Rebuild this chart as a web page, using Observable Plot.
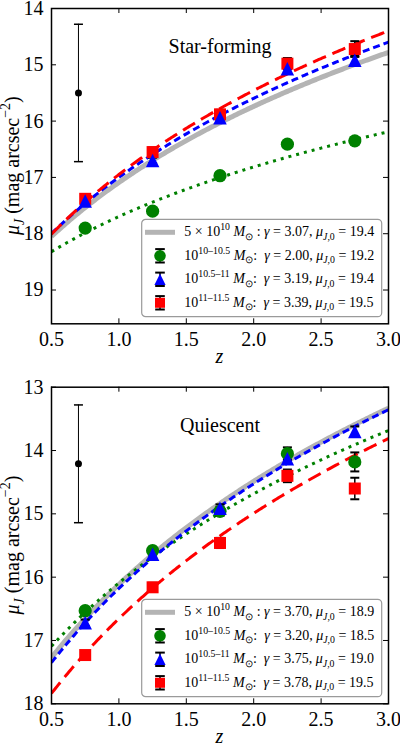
<!DOCTYPE html>
<html>
<head>
<meta charset="utf-8">
<script src="https://cdn.jsdelivr.net/npm/d3@7"></script>
<script src="https://cdn.jsdelivr.net/npm/@observablehq/plot@0.6"></script>
<style>
  body { margin: 0; background: #fff; }
  #fig { width: 400px; height: 745px; overflow: hidden; background: #fff; }
  #fig svg { display: block; }
  #fig svg text { font-family: "Liberation Serif", "Times New Roman", serif; }
</style>
</head>
<body>
<div id="fig"></div>
<script>
// Redshift bins (bin centres) and axis ticks
const zBins = [0.75, 1.25, 1.75, 2.25, 2.75];
const xTicks = [0.5, 1.0, 1.5, 2.0, 2.5, 3.0];

// Mass-bin labels: base and superscript
const massBase = ["5 × 10", "10", "10", "10"];
const massSup = ["10", "10–10.5", "10.5–11", "11–11.5"];

// Star-forming galaxies: measured surface brightness (mag arcsec^-2)
const sfYTicks = [14, 15, 16, 17, 18, 19];
const sfLowMu  = [17.90, 17.60, 16.97, 16.41, 16.35];
const sfLowErr = [0.05, 0.05, 0.05, 0.06, 0.06];
const sfMidMu  = [17.42, 16.70, 15.94, 15.07, 14.92];
const sfMidErr = [0.05, 0.05, 0.06, 0.07, 0.08];
const sfHighMu  = [17.38, 16.55, 15.88, 14.98, 14.72];
const sfHighErr = [0.06, 0.08, 0.08, 0.10, 0.14];
// fits: mu = mu0 - 2.5 * gamma * log10(1 + z); order: 5e10, low, mid, high
const sfGamma = [3.07, 2.00, 3.19, 3.39];
const sfMu0   = [19.4, 19.2, 19.4, 19.5];
// typical error bar [z, mu, err]
const sfTypical = [0.7, 15.5, 1.22];

// Quiescent galaxies
const qYTicks = [13, 14, 15, 16, 17, 18];
const qLowMu  = [16.53, 15.58, 14.96, 14.05, 14.18];
const qLowErr = [0.06, 0.06, 0.07, 0.10, 0.15];
const qMidMu  = [16.72, 15.64, 14.91, 14.13, 13.70];
const qMidErr = [0.05, 0.05, 0.06, 0.08, 0.08];
const qHighMu  = [17.23, 16.16, 15.46, 14.40, 14.60];
const qHighErr = [0.06, 0.07, 0.08, 0.10, 0.17];
const qGamma = [3.70, 3.20, 3.75, 3.78];
const qMu0   = [18.9, 18.5, 19.0, 19.5];
const qTypical = [0.7, 14.21, 0.93];

// ---- marker shapes ----
const circSym = (r) => ({draw(ctx) { ctx.moveTo(r, 0); ctx.arc(0, 0, r, 0, 2 * Math.PI); }});
const triSym = (h) => ({draw(ctx) { ctx.moveTo(0, -h); ctx.lineTo(h, h); ctx.lineTo(-h, h); ctx.closePath(); }});
const sqSym = (h) => ({draw(ctx) { ctx.moveTo(-h, -h); ctx.lineTo(h, -h); ctx.lineTo(h, h); ctx.lineTo(-h, h); ctx.closePath(); }});
const capSym = (w) => ({draw(ctx) { ctx.moveTo(-w, 0); ctx.lineTo(w, 0); }});

const lineStyles = [
  {stroke: "#b4b4b4", strokeWidth: 5, strokeDasharray: null},
  {stroke: "green", strokeWidth: 3, strokeDasharray: "3,5"},
  {stroke: "blue", strokeWidth: 3, strokeDasharray: "7,4"},
  {stroke: "red", strokeWidth: 3, strokeDasharray: "14,7"}
];
const pointColors = ["green", "blue", "red"];
const pointSyms = [circSym(6.6), triSym(6.75), sqSym(6)];
const legendSyms = [circSym(5.8), triSym(5.6), sqSym(5)];

const SERIF = "'Liberation Serif', 'Times New Roman', serif";

function rich(sel, parts, size) {
  let cur = 0;
  parts.forEach(p => {
    const off = p.sup ? -0.42 * size : p.sub ? 0.25 * size : 0;
    const ts = sel.append("tspan").attr("dy", (off - cur).toFixed(2)).text(p.t);
    if (p.sup || p.sub) ts.attr("font-size", (size * 0.7).toFixed(1));
    if (p.it) ts.attr("font-style", "italic");
    cur = off;
  });
}

function panel({height, marginTop, marginBottom, yDomain, yTicks, title, mus, errs, gamma, mu0, typical}) {
  const W = 400, ML = 51, MR = 12;
  const fw = W - ML - MR, fh = height - marginTop - marginBottom;

  // measured points per mass bin (low, mid, high)
  const rows = mus.map((mu, k) => zBins.map((z, i) => ({z, mu: mu[i], err: errs[k][i]})));
  // fitted relations evaluated across the plotted redshift range
  const zGrid = d3.range(0.5, 3.0001, 0.01);
  const curves = gamma.map((g, k) => zGrid.map(z => ({z, mu: mu0[k] - 2.5 * g * Math.log10(1 + z)})));
  const typ = [{z: typical[0], mu: typical[1], err: typical[2]}];

  const allRows = rows.flat();
  const errMarks = (data, w, sw) => [
    Plot.ruleX(data, {x: "z", y1: d => d.mu - d.err, y2: d => d.mu + d.err, stroke: "black", strokeWidth: sw}),
    Plot.dot(data, {x: "z", y: d => d.mu - d.err, symbol: capSym(w), fill: "none", stroke: "black", strokeWidth: sw + 0.5}),
    Plot.dot(data, {x: "z", y: d => d.mu + d.err, symbol: capSym(w), fill: "none", stroke: "black", strokeWidth: sw + 0.5})
  ];

  const svg = Plot.plot({
    width: W, height, marginLeft: ML, marginRight: MR, marginTop, marginBottom,
    style: {fontFamily: SERIF, fontSize: "20px", background: "white", color: "black"},
    x: {domain: [0.5, 3.0]},
    y: {domain: yDomain, reverse: true},
    marks: [
      Plot.axisX({ticks: xTicks, anchor: "bottom", tickSize: 0, tickPadding: 8, tickFormat: d => d.toFixed(1), label: null, fontSize: 20}),
      Plot.axisY({ticks: yTicks, anchor: "left", tickSize: 0, tickPadding: 8, tickFormat: d => String(d), label: null, fontSize: 20}),
      // inward ticks on all four sides
      Plot.ruleX(xTicks, {x: d => d, insetTop: fh - 5, stroke: "black"}),
      Plot.ruleX(xTicks, {x: d => d, insetBottom: fh - 5, stroke: "black"}),
      Plot.ruleY(yTicks, {y: d => d, insetRight: fw - 5, stroke: "black"}),
      Plot.ruleY(yTicks, {y: d => d, insetLeft: fw - 5, stroke: "black"}),
      // fitted relations
      ...curves.map((c, k) => Plot.line(c, {x: "z", y: "mu", ...lineStyles[k], strokeLinecap: "butt", clip: true})),
      // error bars
      ...errMarks(allRows, 4.5, 1.5),
      // points: low, high, then mid on top
      Plot.dot(rows[0], {x: "z", y: "mu", symbol: pointSyms[0], fill: pointColors[0], stroke: "none"}),
      Plot.dot(rows[2], {x: "z", y: "mu", symbol: pointSyms[2], fill: pointColors[2], stroke: "none"}),
      Plot.dot(rows[1], {x: "z", y: "mu", symbol: pointSyms[1], fill: pointColors[1], stroke: "none"}),
      // typical uncertainty
      ...errMarks(typ, 4.5, 1),
      Plot.dot(typ, {x: "z", y: "mu", r: 3.5, fill: "black", stroke: "none"}),
      Plot.text([title], {text: d => d, frameAnchor: "top", dy: 30.6, fontSize: 20}),
      Plot.frame({stroke: "black", strokeWidth: 1.5})
    ]
  });

  const s = d3.select(svg);
  s.attr("font-family", SERIF);
  // y-axis label
  const yl = s.append("text")
    .attr("transform", `translate(18.5,${marginTop + fh / 2}) rotate(-90)`)
    .attr("text-anchor", "middle").attr("font-size", 20).attr("fill", "black")
    .style("white-space", "pre");
  rich(yl, [{t: "μ", it: 1}, {t: "J", it: 1, sub: 1}, {t: " (mag arcsec"}, {t: "−2", sup: 1}, {t: ")"}], 20);
  // x-axis label
  s.append("text").attr("x", ML + fw / 2).attr("y", marginTop + fh + 39.7)
    .attr("text-anchor", "middle").attr("font-size", 20).attr("font-style", "italic").text("z");

  // legend
  const LW = 240, LH = 97.4;
  const lg = s.append("g").attr("transform", `translate(${ML + fw - 6.3 - LW},${marginTop + fh - 6.6 - LH})`);
  lg.append("rect").attr("width", LW).attr("height", LH).attr("rx", 4)
    .attr("fill", "white").attr("stroke", "#9a9a9a").attr("stroke-width", 1.2);
  for (let i = 0; i < 4; i++) {
    const cy = 13 + i * 23.5;
    if (i === 0) {
      lg.append("line").attr("x1", 3.3).attr("x2", 33.3).attr("y1", cy).attr("y2", cy)
        .attr("stroke", lineStyles[0].stroke).attr("stroke-width", 5);
    } else {
      lg.append("line").attr("x1", 18.3).attr("x2", 18.3).attr("y1", cy - 6.7).attr("y2", cy + 6.7)
        .attr("stroke", "black").attr("stroke-width", 1.5);
      for (const dy of [-6.7, 6.7]) {
        lg.append("line").attr("x1", 13.5).attr("x2", 23.1).attr("y1", cy + dy).attr("y2", cy + dy)
          .attr("stroke", "black").attr("stroke-width", 2);
      }
      lg.append("path").attr("transform", `translate(18.3,${cy})`)
        .attr("d", d3.symbol(legendSyms[i - 1])()).attr("fill", pointColors[i - 1]);
    }
    const t = lg.append("text").attr("x", 42.6).attr("y", cy + 4).attr("font-size", 14)
      .attr("text-anchor", "start").attr("fill", "black").style("white-space", "pre");
    rich(t, [
      {t: massBase[i]}, {t: massSup[i], sup: 1}, {t: " "},
      {t: "M", it: 1}, {t: "⊙", sub: 1}, {t: i === 0 ? " : " : ":  "},
      {t: "γ", it: 1}, {t: " = " + gamma[i].toFixed(2) + ", "},
      {t: "μ", it: 1}, {t: "J", it: 1, sub: 1}, {t: ",0", sub: 1},
      {t: " = " + mu0[i].toFixed(1)}
    ], 14);
  }
  s.selectAll("text").style("font-family", SERIF);
  return svg;
}

const fig = document.getElementById("fig");
fig.appendChild(panel({
  height: 370, marginTop: 8, marginBottom: 46.7,
  yDomain: [14, 19.6], yTicks: sfYTicks, title: "Star-forming",
  mus: [sfLowMu, sfMidMu, sfHighMu], errs: [sfLowErr, sfMidErr, sfHighErr],
  gamma: sfGamma, mu0: sfMu0, typical: sfTypical
}));
fig.appendChild(panel({
  height: 375, marginTop: 16.7, marginBottom: 41.7,
  yDomain: [13, 18], yTicks: qYTicks, title: "Quiescent",
  mus: [qLowMu, qMidMu, qHighMu], errs: [qLowErr, qMidErr, qHighErr],
  gamma: qGamma, mu0: qMu0, typical: qTypical
}));
</script>
</body>
</html>
